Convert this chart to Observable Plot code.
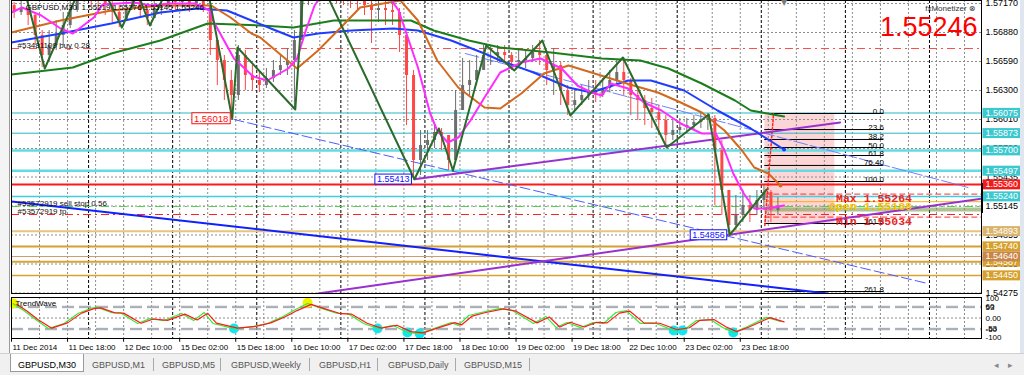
<!DOCTYPE html>
<html><head><meta charset="utf-8">
<script src="https://cdn.jsdelivr.net/npm/d3@7"></script>
<script src="https://cdn.jsdelivr.net/npm/@observablehq/plot@0.6"></script>
<style>
html,body{margin:0;padding:0;background:#fff;}
#wrap{position:relative;width:1024px;height:375px;overflow:hidden;background:#fff;font-family:"Liberation Sans",Arial,sans-serif;}
#main,#ind{position:absolute;left:0;width:1024px;}
#main{top:0}
#ind{top:295px}
#left{position:absolute;left:0;top:0;width:9px;height:353px;background:#f4f4f4;border-right:1px solid #9a9a9a;}
#rstrip{position:absolute;left:1020px;top:0;width:4px;height:353px;background:#dfe6ef}
#tabs{position:absolute;left:0;top:353px;width:1024px;height:22px;background:#f0f0f0;border-top:1px solid #d0d0d0;font-size:9px;color:#555;}
.tab{position:absolute;top:6px;white-space:nowrap}
.sep{position:absolute;top:4px;width:1px;height:13px;background:#a8a8a8}
#active{position:absolute;left:10px;top:0px;width:72px;height:17px;background:#fff;border:1px solid #9a9a9a;border-top:none}
#shift{position:absolute;left:781px;top:-2px;font-size:8px;color:#7a7a7a;font-family:"DejaVu Sans",sans-serif}
#bidbar{position:absolute;left:981px;top:183px;width:2px;height:30px;background:#000}
</style></head>
<body><div id="wrap">
<div id="main"></div><div id="ind"></div><div id="left"></div><div id="rstrip"></div>
<div id="shift">▼</div><div id="bidbar"></div>
<div id="tabs">
  <div id="active"></div>
  <div class="tab" style="left:18px;color:#000">GBPUSD,M30</div>
  <div class="tab" style="left:92px">GBPUSD,M1</div><div class="sep" style="left:153px"></div>
  <div class="tab" style="left:162px">GBPUSD,M5</div><div class="sep" style="left:220px"></div>
  <div class="tab" style="left:231px">GBPUSD,Weekly</div><div class="sep" style="left:309px"></div>
  <div class="tab" style="left:319px">GBPUSD,H1</div><div class="sep" style="left:377px"></div>
  <div class="tab" style="left:388px">GBPUSD,Daily</div><div class="sep" style="left:455px"></div>
  <div class="tab" style="left:464px">GBPUSD,M15</div><div class="sep" style="left:529px"></div>
  <div class="tab" style="left:994px;color:#888;font-family:'DejaVu Sans'">◂</div>
  <div class="tab" style="left:1008px;color:#888;font-family:'DejaVu Sans'">▸</div>
</div>
</div>
<script>
// ---------------- DATA ----------------
// 2-hour candles (each spans 4 M30 bars), prices
const candleClose = [1.5708,1.5712,1.5705,1.5685,1.5665,1.5675,1.5685,1.5695,1.5710,1.5725,
1.5730,1.5728,1.5725,1.5715,1.5708,1.5700,1.5712,1.5725,1.5710,1.5702,
1.5712,1.5715,1.5723,1.5718,1.5722,1.5717,1.5720,1.5715,1.5680,1.5660,
1.5640,1.5625,1.5665,1.5645,1.5640,1.5635,1.5642,1.5650,1.5655,1.5660,
1.5680,1.5720,1.5730,1.5735,1.5735,1.5732,1.5730,1.5728,1.5725,1.5720,
1.5715,1.5710,1.5712,1.5710,1.5708,1.5685,1.5645,1.5560,1.5575,1.5580,
1.5588,1.5585,1.5560,1.5610,1.5635,1.5640,1.5650,1.5665,1.5665,1.5668,
1.5665,1.5658,1.5660,1.5662,1.5668,1.5665,1.5650,1.5655,1.5630,1.5615,
1.5620,1.5625,1.5630,1.5625,1.5632,1.5640,1.5648,1.5640,1.5625,1.5620,
1.5612,1.5608,1.5600,1.5585,1.5590,1.5593,1.5595,1.5598,1.5600,1.5602,
1.5570,1.5530,1.5495,1.5505,1.5515,1.5510,1.5520,1.5528,1.5510,1.55145];
const candleHigh = [1.5718,1.5722,1.5720,1.5708,1.5690,1.5690,1.5700,1.5708,1.5725,1.5735,
1.5740,1.5738,1.5735,1.5728,1.5720,1.5715,1.5725,1.5735,1.5725,1.5715,
1.5725,1.5725,1.5732,1.5728,1.5730,1.5725,1.5728,1.5725,1.5715,1.5680,
1.5665,1.5650,1.5675,1.5670,1.5655,1.5648,1.5652,1.5660,1.5665,1.5672,
1.5690,1.5740,1.5745,1.5750,1.5750,1.5748,1.5745,1.5740,1.5738,1.5732,
1.5725,1.5720,1.5720,1.5720,1.5718,1.5712,1.5688,1.5650,1.5590,1.5590,
1.5595,1.5592,1.5585,1.5630,1.5662,1.5660,1.5665,1.5675,1.5675,1.5675,
1.5675,1.5668,1.5670,1.5670,1.5675,1.5680,1.5670,1.5672,1.5658,1.5635,
1.5632,1.5635,1.5640,1.5640,1.5642,1.5650,1.5660,1.5663,1.5642,1.5630,
1.5625,1.5622,1.5615,1.5605,1.5600,1.5602,1.5602,1.5605,1.5608,1.5607,
1.5605,1.5580,1.5530,1.5525,1.5530,1.5525,1.5530,1.5535,1.5530,1.5523];
const candleLow = [1.5702,1.5705,1.5695,1.5675,1.5653,1.5658,1.5670,1.5675,1.5692,1.5708,
1.5718,1.5715,1.5710,1.5705,1.5698,1.5693,1.5700,1.5712,1.5702,1.5695,
1.5702,1.5705,1.5712,1.5708,1.5712,1.5708,1.5710,1.5708,1.5665,1.5635,
1.5620,1.56018,1.5620,1.5630,1.5630,1.5628,1.5632,1.5638,1.5645,1.5645,
1.5611,1.5680,1.5715,1.5720,1.5722,1.5720,1.5717,1.5715,1.5712,1.5710,
1.5705,1.5677,1.5698,1.5695,1.5695,1.5668,1.5595,1.55413,1.5545,1.5560,
1.5572,1.5570,1.5550,1.5560,1.5610,1.5625,1.5635,1.5650,1.5655,1.5658,
1.5658,1.5650,1.5652,1.5652,1.5658,1.5655,1.5635,1.5625,1.5615,1.5605,
1.5610,1.5615,1.5620,1.5618,1.5623,1.5628,1.5635,1.5625,1.5605,1.5600,
1.5595,1.5592,1.5585,1.5573,1.5580,1.5585,1.5587,1.5590,1.5592,1.5590,
1.5515,1.5505,1.54856,1.5490,1.5498,1.5498,1.5505,1.5510,1.5498,1.5505];
const firstOpen = 1.5715;

// moving averages (M30 bar index, price)
const maMagentaBars = [0,6,17,28,35,47,52,70,80,90,105,113,115,127,138,146,158,163,168,173,177,200,215,221,232,239,243,249,255,262,270,279,291,302,314,323,331,337,342,352,361,371,382,394,402,407,412,418,424,430,435,441];
const maMagentaPrices = [1.5708,1.5713,1.5705,1.5692,1.5687,1.5703,1.5716,1.5718,1.5715,1.5717,1.5717,1.5710,1.5700,1.5662,1.5644,1.5640,1.5652,1.5662,1.5690,1.5715,1.5725,1.5735,1.5725,1.5710,1.5653,1.5607,1.5590,1.5578,1.5583,1.5600,1.5623,1.5648,1.5658,1.5662,1.5652,1.5635,1.5628,1.5625,1.5637,1.5632,1.5618,1.5610,1.5597,1.5587,1.5587,1.5570,1.5547,1.5527,1.5512,1.5512,1.5513,1.5515];
const maOrangeBars = [0,28,57,85,114,125,137,142,163,175,188,199,222,232,243,255,270,279,291,304,318,331,342,355,369,382,394,407,417,424,432,439];
const maOrangePrices = [1.5688,1.5700,1.5710,1.5715,1.5715,1.5703,1.5687,1.5683,1.5652,1.5670,1.5693,1.5713,1.5720,1.5700,1.5660,1.5633,1.5613,1.5612,1.5627,1.5647,1.5655,1.5648,1.5642,1.5635,1.5628,1.5618,1.5608,1.5590,1.5570,1.5553,1.5547,1.5535];
const maBlueBars = [0,28,57,85,106,123,137,148,161,175,194,218,232,251,270,279,298,318,331,352,365,384,403,422,441];
const maBluePrices = [1.5678,1.5687,1.5697,1.5708,1.5712,1.5710,1.5700,1.5692,1.5683,1.5687,1.5690,1.5692,1.5690,1.5680,1.5667,1.5660,1.5648,1.5633,1.5628,1.5640,1.5640,1.5630,1.5610,1.5592,1.5571];
const maGreenBars = [0,35,57,85,112,142,161,184,228,241,261,279,308,337,359,375,394,413,422,441];
const maGreenPrices = [1.5646,1.5653,1.5667,1.5680,1.5697,1.5695,1.5693,1.5700,1.5700,1.5690,1.5680,1.5673,1.5668,1.5662,1.5660,1.5652,1.5637,1.5620,1.5610,1.5604];

// zigzag pivots
const zigBars = [6,19,41,45,50,63,72,79,90,100,111,126,129,162,168,230,244,252,271,287,303,319,349,374,398,410,431];
const zigPrices = [1.5740,1.5652,1.5740,1.5728,1.5740,1.5693,1.5728,1.5695,1.5735,1.5725,1.5740,1.56018,1.5673,1.5611,1.5770,1.55413,1.5592,1.5550,1.5675,1.5650,1.5680,1.5605,1.5663,1.5573,1.5606,1.54856,1.5531];

// labelled extremes
const extremeBars = [126, 230, 410];
const extremePrices = [1.56018, 1.55413, 1.54856];

// trend lines (two anchors each)
const blueTrendBars = [0, 466], blueTrendPrices = [1.5519, 1.5427];
const blueDashBars = [127, 523], blueDashPrices = [1.5601, 1.5437];
const blueThinBars = [259, 546], blueThinPrices = [1.5667, 1.5533];
const purpleUpBars = [230, 473], purpleUpPrices = [1.55413, 1.5598];
const purpleLowBars = [175, 554], purpleLowPrices = [1.5427, 1.5522];

// horizontal levels
const hLevelPrices = [1.5672, 1.56075, 1.55873, 1.55700, 1.55497, 1.55360, 1.55240, 1.5514, 1.5506, 1.54893, 1.54740, 1.54640, 1.54587, 1.54450];
const hLevelStyles = [
  {stroke:"#ff4d4d", w:1, dash:"8,4,2,4"},
  {stroke:"#2ab7c6", w:1, dash:null},
  {stroke:"#2ab7c6", w:1, dash:null},
  {stroke:"#62dbe2", w:2.5, dash:null},
  {stroke:"#62dbe2", w:2.5, dash:null},
  {stroke:"#ff1a1a", w:2, dash:null},
  {stroke:"#3fcfe0", w:1.5, dash:null},
  {stroke:"#4fd34f", w:1, dash:"8,4,2,4"},
  {stroke:"#ff2020", w:1, dash:"8,4,2,4"},
  {stroke:"#e8c57c", w:2, dash:null},
  {stroke:"#d4a033", w:2, dash:null},
  {stroke:"#d09a7a", w:1, dash:null},
  {stroke:"#d8a230", w:2, dash:null},
  {stroke:"#d8a230", w:1.5, dash:null}
];

// order labels
const orderTexts = ["#53481109 buy 0.28", "#53572919 sell stop 0.56", "#53572919 tp"];
const orderPrices = [1.5672, 1.5514, 1.5506];

// fibonacci
const fibP0 = 1.5607, fibP100 = 1.5539;
const fibLevels = [0, 23.6, 38.2, 50, 61.8, 76.4, 100, 161.8, 261.8];
const fibLabels = ["0.0","23.6","38.2","50.0","61.8","76.40","100.0","161.8","261.8"];
const fibStartBar = 430, fibEndBar = 498, fibShadeEndBar = 470;

// session stats
const statNames = ["Max", "Open", "Min"];
const statPrices = [1.55264, 1.55188, 1.55034];
const statBandPrice = 1.5511;

// price axis
const priceTicks = [1.57170,1.56880,1.56590,1.56300,1.56010,1.55720,1.55435,1.55145,1.54855,1.54565,1.54275];
const boxCyan = [1.56075, 1.55873, 1.55700, 1.55497, 1.55240];
const boxRed = [1.55360];
const boxTan = [1.54893];
const boxGold = [1.54740, 1.54587, 1.54450];
const boxPeru = [1.54640];

// time axis
const dateLabels = ["11 Dec 2014","11 Dec 18:00","12 Dec 10:00","15 Dec 02:00","15 Dec 18:00","16 Dec 10:00","17 Dec 02:00","17 Dec 18:00","18 Dec 10:00","19 Dec 02:00","19 Dec 18:00","22 Dec 10:00","23 Dec 02:00","23 Dec 18:00"];
const dateLabelBars = [0,32,64,96,128,160,192,224,256,288,320,352,384,416];
const daySepBars = [44,92,140,188,236,284,332,380,428,476,524];

// header texts
const headerText = "GBPUSD,M30  1.55219 1.55276 1.55145 1.55246";
const bigPrice = "1.55246";

// TrendWave indicator
const waveGreenBars = [1,7,13,21,30,38,45,49,57,62,72,79,87,97,104,110,115,127,138,146,154,161,169,177,186,192,201,209,218,226,233,241,251,255,261,268,279,286,298,305,311,317,325,332,338,345,351,359,368,378,385,391,399,406,412,419,431,439];
const waveGreenValues = [73,38,-3,-54,-28,23,49,54,28,28,-28,-3,-13,23,-13,28,-28,-54,-44,-28,3,38,74,49,23,23,-28,-54,-38,-74,-80,-54,-23,-38,13,28,49,38,-28,8,-49,-23,-49,-23,-28,28,38,-28,-28,-64,-54,-13,-8,-49,-74,-49,3,-18];
const waveRedBars = [3,9,15,23,32,40,47,51,59,64,74,81,89,99,106,112,117,129,140,148,156,163,171,179,188,194,203,211,220,228,235,243,253,257,263,270,281,288,300,307,313,319,327,334,340,347,353,361,370,380,387,393,401,408,414,421,433,441];
const waveRedValues = [70,35,-8,-52,-25,25,48,52,26,25,-27,-5,-12,20,-10,24,-26,-52,-42,-25,5,38,70,47,22,20,-27,-52,-37,-70,-76,-52,-24,-35,10,27,47,35,-25,5,-46,-22,-46,-22,-25,25,35,-25,-27,-60,-50,-12,-8,-46,-70,-46,2,-20];
const waveCyanBars = [127,209,226,233,378,383,412];
const waveCyanValues = [-54,-54,-74,-80,-64,-64,-74];
const waveYellowBars = [1,169];
const waveYellowValues = [74,78];
const waveLevels = [60,53,-53,-60];
const waveLabelValues = [100,60,53,0,-53,-60,-100];
const waveLabelTexts = ["100","60","53","0.00","-53","-60","-100"];

// ---------------- BUILD ----------------
const FONT = '"Liberation Sans", Arial, sans-serif';
const xDomain = [0, 553.7];
const pts = (bars, vals) => bars.map((b, i) => ({bar: b, v: vals[i]}));
const candles = candleClose.map((c, k) => ({bar: k * 4 + 1.5, open: k ? candleClose[k - 1] : firstOpen, close: c, high: candleHigh[k], low: candleLow[k]}));
const bull = candles.filter(d => d.close >= d.open);
const bear = candles.filter(d => d.close < d.open);
const fibPrice = L => fibP0 - (fibP0 - fibP100) * L / 100;
const gridBars = d3.range(0, 553, 16);
const tag = name => ({ariaLabel: () => name, ariaDescription: name});

const line = (bars, vals, o) => Plot.line(pts(bars, vals), {x: "bar", y: "v", clip: true, ...o});
const axisText = (data, fill, name) => Plot.text(data, {y: d => d, text: d => d.toFixed(5), frameAnchor: "right", textAnchor: "start", dx: 4, fontSize: 9, fill, fontFamily: FONT, ...(name ? tag(name) : {})});
const extremes = extremeBars.map((b, i) => ({bar: b, v: extremePrices[i]}));

const mainMarks = [
  Plot.rect([0], {x1: () => fibStartBar, x2: () => fibShadeEndBar, y1: () => fibPrice(0), y2: () => fibPrice(161.8), fill: "#fcd6d6"}),
  Plot.ruleY(priceTicks, {stroke: "#8c8c8c", strokeDasharray: "2,2"}),
  Plot.ruleX(gridBars, {stroke: "#8c8c8c", strokeDasharray: "2,2"}),
  Plot.ruleX(daySepBars, {stroke: "#000", strokeDasharray: "3,2"}),
  ...hLevelPrices.map((p, i) => Plot.ruleY([p], {stroke: hLevelStyles[i].stroke, strokeWidth: hLevelStyles[i].w, strokeDasharray: hLevelStyles[i].dash || undefined})),
  // session lines
  Plot.ruleY([statBandPrice], {x1: () => fibStartBar, x2: () => xDomain[1], stroke: "#7d9b4e", strokeWidth: 4, strokeOpacity: 0.6}),
  Plot.ruleY([statPrices[0]], {x1: () => fibStartBar, x2: () => xDomain[1], stroke: "#ff3030", strokeDasharray: "6,3"}),
  Plot.ruleY([statPrices[1]], {x1: () => fibStartBar, x2: () => xDomain[1], stroke: "#ffb000"}),
  Plot.ruleY([statPrices[2]], {x1: () => fibStartBar, x2: () => xDomain[1], stroke: "#ff3030", strokeDasharray: "6,3"}),
  // fib
  Plot.ruleY(fibLevels, {y: fibPrice, x1: () => fibStartBar, x2: () => fibEndBar, stroke: "#000"}),
  Plot.line([{bar: fibStartBar, v: 1.5495}, {bar: fibStartBar + 5, v: fibP0}], {x: "bar", y: "v", stroke: "#ff2020", strokeDasharray: "2,2"}),
  // trend lines
  line(blueTrendBars, blueTrendPrices, {stroke: "#1020ff", strokeWidth: 2}),
  line(blueDashBars, blueDashPrices, {stroke: "#4d5dff", strokeWidth: 1, strokeDasharray: "10,4"}),
  line(blueThinBars, blueThinPrices, {stroke: "#7080ff", strokeWidth: 1, strokeDasharray: "14,3"}),
  line(purpleUpBars, purpleUpPrices, {stroke: "#9b30d0", strokeWidth: 2}),
  line(purpleLowBars, purpleLowPrices, {stroke: "#9b30d0", strokeWidth: 2}),
  // candles
  Plot.ruleX(bull, {x: "bar", y1: "low", y2: "high", stroke: "#6e6e6e", clip: true}),
  Plot.ruleX(bear, {x: "bar", y1: "low", y2: "high", stroke: "#ff4747", clip: true}),
  Plot.ruleX(bull, {x: "bar", y1: "open", y2: "close", stroke: "#6e6e6e", strokeWidth: 3, clip: true}),
  Plot.ruleX(bear, {x: "bar", y1: "open", y2: "close", stroke: "#ff4747", strokeWidth: 3, clip: true}),
  // moving averages
  line(maGreenBars, maGreenPrices, {stroke: "#1c7d1c", strokeWidth: 2}),
  line(maBlueBars, maBluePrices, {stroke: "#1f3cff", strokeWidth: 2}),
  line(maOrangeBars, maOrangePrices, {stroke: "#d2691e", strokeWidth: 2}),
  line(maMagentaBars, maMagentaPrices, {stroke: "#ff2bff", strokeWidth: 2}),
  line(zigBars, zigPrices, {stroke: "#2a6a2a", strokeWidth: 2}),
  Plot.dot([{bar: maBlueBars.at(-1), v: maBluePrices.at(-1)}], {x: "bar", y: "v", r: 2, fill: "#1f3cff"}),
  Plot.dot([{bar: maOrangeBars.at(-1), v: maOrangePrices.at(-1)}], {x: "bar", y: "v", r: 2, fill: "#d2691e"}),
  // fib labels
  Plot.text(fibLevels, {x: () => fibEndBar, y: fibPrice, text: (d, i) => fibLabels[i], textAnchor: "end", lineAnchor: "bottom", dy: 0, fontSize: 8, fill: "#000", fontFamily: FONT}),
  // stats texts
  ...statNames.map((n, i) => Plot.text([statPrices[i]], {x: () => 514, y: d => d, text: d => `${n} ${d.toFixed(5)}`, textAnchor: "end", lineAnchor: "top", dy: 0, fontSize: 11.5, fontWeight: "bold", fontFamily: '"Liberation Mono", monospace', fill: i === 1 ? "#f2c200" : "#e82525"})),
  // order labels
  Plot.text(orderPrices, {y: d => d, text: (d, i) => orderTexts[i], frameAnchor: "left", textAnchor: "start", dx: 6, lineAnchor: "bottom", dy: -1, fontSize: 8, fill: "#111", fontFamily: FONT}),
  // extremes
  Plot.text(extremes.slice(0, 1), {x: "bar", y: "v", text: d => d.v.toFixed(5), textAnchor: "end", dx: -4, fontSize: 9.5, fill: "#ff1010", fontFamily: FONT, ...tag("ext-red")}),
  Plot.text(extremes.slice(1), {x: "bar", y: "v", text: d => d.v.toFixed(5), textAnchor: "end", dx: -5, fontSize: 9, fill: "#1010ff", fontFamily: FONT, ...tag("ext-blue")}),
  // price axis
  axisText(priceTicks, "#000"),
  axisText(boxCyan, "#fff", "box-cyan"),
  axisText(boxRed, "#fff", "box-red"),
  axisText(boxTan, "#fff", "box-tan"),
  axisText(boxGold, "#fff", "box-gold"),
  axisText(boxPeru, "#fff", "box-peru"),
  // header texts
  Plot.text([headerText], {frameAnchor: "top-left", textAnchor: "start", dx: 14, dy: 4, fontSize: 8, fill: "#000", fontFamily: FONT}),
  Plot.text(["fxMonetizer ⊗"], {frameAnchor: "top-right", textAnchor: "end", dx: -6, dy: 5, fontSize: 8, fill: "#333", fontFamily: '"Liberation Sans","DejaVu Sans",sans-serif'}),
  Plot.text([bigPrice], {frameAnchor: "top-right", textAnchor: "end", dx: -4, dy: 16, fontSize: 27, fill: "#ff0000", fontFamily: FONT}),
  Plot.frame({stroke: "#000"})
];

const mainSvg = Plot.plot({
  width: 1024, height: 295, marginLeft: 11, marginRight: 43, marginTop: 0, marginBottom: 2,
  x: {domain: xDomain, axis: null},
  y: {domain: [1.5427, 1.5720], axis: null},
  style: {background: "transparent", fontFamily: FONT, overflow: "visible"},
  marks: mainMarks
});
document.getElementById("main").appendChild(mainSvg);

const indSvg = Plot.plot({
  width: 1024, height: 60, marginLeft: 11, marginRight: 43, marginTop: 2, marginBottom: 17,
  x: {domain: xDomain, axis: null},
  y: {domain: [-105, 105], axis: null},
  style: {background: "transparent", fontFamily: FONT, overflow: "visible"},
  marks: [
    Plot.ruleX(gridBars, {stroke: "#8c8c8c", strokeDasharray: "2,2"}),
    Plot.ruleX(daySepBars, {stroke: "#000", strokeDasharray: "3,2"}),
    Plot.ruleY([0], {stroke: "#8c8c8c", strokeDasharray: "2,2"}),
    Plot.ruleY(waveLevels, {stroke: "#9aa0aa", strokeDasharray: "12,5"}),
    Plot.dot(pts(waveYellowBars, waveYellowValues), {x: "bar", y: "v", r: 5, fill: "#f2f200"}),
    Plot.dot(pts(waveCyanBars, waveCyanValues), {x: "bar", y: "v", r: 5, fill: "#12e6f2"}),
    Plot.line(pts(waveGreenBars, waveGreenValues), {x: "bar", y: "v", stroke: "#33ee33", strokeWidth: 1.2}),
    Plot.line(pts(waveRedBars, waveRedValues), {x: "bar", y: "v", stroke: "#ff1a1a", strokeWidth: 1.2}),
    Plot.text(["TrendWave"], {frameAnchor: "top-left", textAnchor: "start", dx: 4, dy: 3, fontSize: 8, fill: "#000", fontFamily: FONT}),
    Plot.text(waveLabelValues, {y: d => d, text: (d, i) => waveLabelTexts[i], frameAnchor: "right", textAnchor: "start", dx: 4, fontSize: 8, fill: "#000", fontFamily: FONT}),
    Plot.ruleX(dateLabelBars, {x: d => d, y1: () => -105, y2: () => -124, stroke: "#000"}),
    Plot.text(dateLabelBars, {x: d => d, text: (d, i) => dateLabels[i], frameAnchor: "bottom", textAnchor: "start", dx: 1, dy: 11, fontSize: 8, fill: "#000", fontFamily: FONT}),
    Plot.frame({stroke: "#000"})
  ]
});
document.getElementById("ind").appendChild(indSvg);

// label boxes drawn behind texts, sized from the rendered text
function boxify(svg, name, fill, stroke, px, py) {
  const found = new Set();
  svg.querySelectorAll(`[aria-label="${name}"], [aria-description="${name}"]`).forEach(el => {
    if (el.tagName.toLowerCase() === "text") found.add(el);
    else el.querySelectorAll("text").forEach(t => found.add(t));
  });
  found.forEach(t => {
    const b = t.getBBox();
    const r = document.createElementNS("http://www.w3.org/2000/svg", "rect");
    r.setAttribute("x", b.x - px); r.setAttribute("y", b.y - py);
    r.setAttribute("width", b.width + 2 * px); r.setAttribute("height", b.height + 2 * py);
    r.setAttribute("fill", fill);
    if (stroke) r.setAttribute("stroke", stroke);
    const tr = t.getAttribute("transform"); if (tr) r.setAttribute("transform", tr);
    t.parentNode.insertBefore(r, t);
  });
}
boxify(mainSvg, "box-cyan", "#3cc8cf", null, 3, 0);
boxify(mainSvg, "box-red", "#f21b1b", null, 3, 0);
boxify(mainSvg, "box-tan", "#dab46c", null, 3, 0);
boxify(mainSvg, "box-gold", "#d6a02c", null, 3, 0);
boxify(mainSvg, "box-peru", "#c8864a", null, 3, 0);
boxify(mainSvg, "ext-red", "#fff", "#ff1010", 2, 0);
boxify(mainSvg, "ext-blue", "#fff", "#1010ff", 2, 0);
</script>
</body></html>
